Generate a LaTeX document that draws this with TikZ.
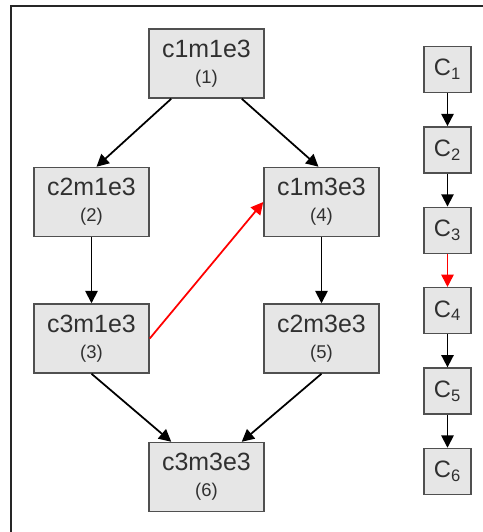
\documentclass[tikz,border=0pt]{standalone}
\usepackage{fontspec}
\setmainfont{Liberation Sans}
\usepackage{tikz}
\usetikzlibrary{calc,arrows.meta}

\definecolor{boxfill}{HTML}{E6E6E6}
\definecolor{boxline}{HTML}{505050}
\definecolor{txt}{HTML}{303030}

\newcommand{\statelbl}[2]{{\fontsize{14.2}{16}\selectfont #1}\\[3pt]{\fontsize{10.5}{12}\selectfont (#2)}}
\newcommand{\clbl}[1]{{\fontsize{13.5}{15}\selectfont C\textsubscript{#1}}}

\tikzset{
    state/.style={rectangle, fill=boxfill, draw=boxline, line width=0.85pt, text=txt,
        minimum width=2.3cm, minimum height=1.38cm, align=center, inner sep=0pt},
    cbox/.style={rectangle, fill=boxfill, draw=boxline, line width=0.85pt, text=txt,
        minimum width=0.94cm, minimum height=0.92cm, inner sep=0pt},
    arr/.style={-{Triangle[width=7pt,length=7pt]}, line width=1pt, black},
}

\begin{document}
\begin{tikzpicture}[x=0.02cm, y=-0.02cm]
    \useasboundingbox (0,0) rectangle (483,532);
    \draw[line width=1pt, black!85] (11,532) -- (11,6) -- (483,6);

    \node[state] (s1) at (206.5,63.5) {\statelbl{c1m1e3}{1}};
    
    \node[state] (s2) at ($(s1) + (-115,138.5)$) {\statelbl{c2m1e3}{2}};
    
    \node[state] (s4) at ($(s1) + (115,138.5)$) {\statelbl{c1m3e3}{4}};
    
    \node[state] (s3) at ($(s2) + (0,136.5)$) {\statelbl{c3m1e3}{3}};
    
    \node[state] (s5) at ($(s4) + (0,136.5)$) {\statelbl{c2m3e3}{5}};
    
    \node[state] (s6) at ($(s1) + (0,413.5)$) {\statelbl{c3m3e3}{6}};
    
    \node[cbox] (c1) at (447.5,69.5) {\clbl{1}};
    \node[cbox] (c2) at ($(c1) + (0,80.4)$) {\clbl{2}};
    \node[cbox] (c3) at ($(c2) + (0,80.4)$) {\clbl{3}};
    \node[cbox] (c4) at ($(c3) + (0,80.4)$) {\clbl{4}};
    \node[cbox] (c5) at ($(c4) + (0,80.4)$) {\clbl{5}};
    \node[cbox] (c6) at ($(c5) + (0,80.4)$) {\clbl{6}};
    
    \draw[arr] (s1.225) -- ($(s2.north) + (5,0)$);
    \draw[arr] (s1.-45) -- ($(s4.north) + (-3,0)$);
    \draw[arr] (s2) -- (s3);
    \draw[arr] (s4) -- (s5);
    \draw[arr] (s3.south) -- (s6.135);
    \draw[arr] (s5.south) -- (s6.45);
    \draw[arr, red] (s3.east) -- (s4.west);
    
    \draw[arr] (c1) -- (c2);
    \draw[arr] (c2) -- (c3);
    \draw[arr, red] (c3) -- (c4);
    \draw[arr] (c4) -- (c5);
    \draw[arr] (c5) -- (c6);
    
\end{tikzpicture}
\end{document}
